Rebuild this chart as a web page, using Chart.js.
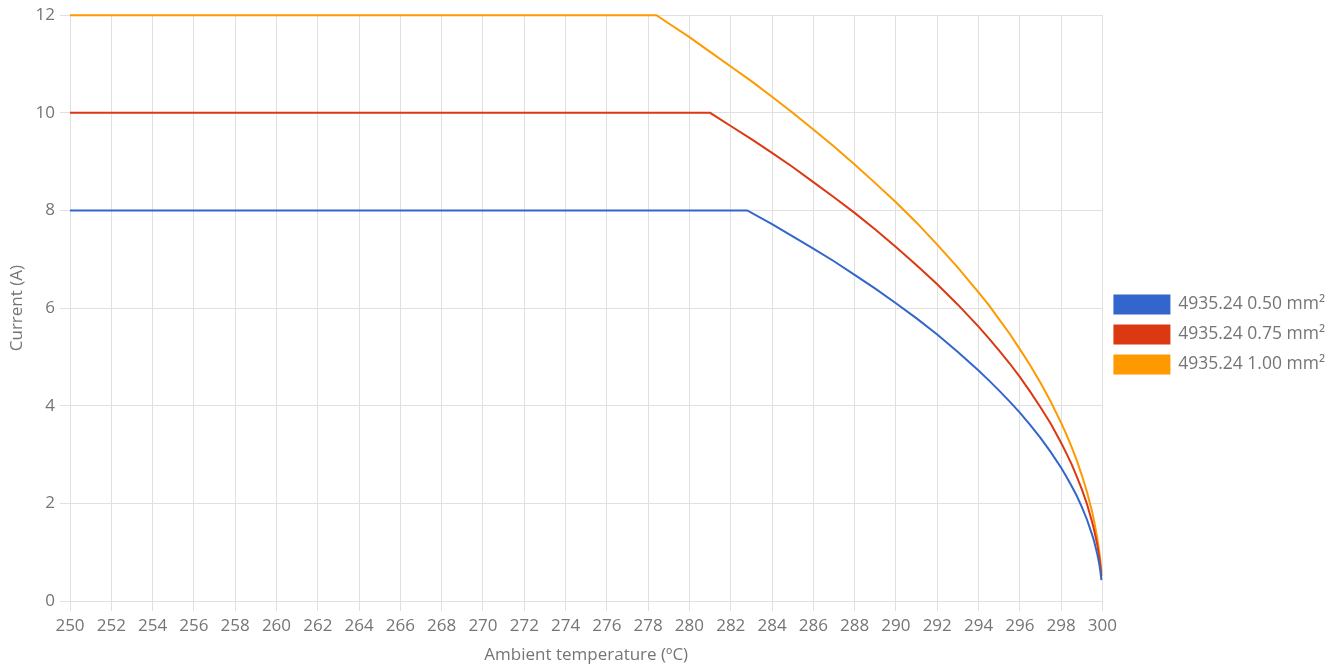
<!DOCTYPE html>
<html>
<head>
<meta charset="utf-8">
<script src="https://cdn.jsdelivr.net/npm/chart.js@4.4.1/dist/chart.umd.min.js"></script>
<style>
  html, body { margin: 0; padding: 0; background: #fff; }
  #wrap { width: 1339px; height: 669px; position: relative; }
</style>
</head>
<body>
<div id="wrap"><canvas id="chart"></canvas></div>
<script>
"use strict";

// series labels + colours
const LABELS = ["4935.24 0.50 mm²", "4935.24 0.75 mm²", "4935.24 1.00 mm²"];
const COLORS = ["#3366cc", "#dc3912", "#ff9900"];

// ambient temperature (ºC) / current (A)
const temp050 = [250, 282.8, 284, 285, 286, 287, 288, 289, 290, 291, 292, 293, 294, 294.5, 295, 295.5, 296, 296.5, 297, 297.5, 298, 298.25, 298.5, 298.75, 299, 299.25, 299.5, 299.6, 299.75, 299.85, 299.9, 299.95];
const curr050 = [8, 8, 7.72, 7.47, 7.22, 6.96, 6.68, 6.40, 6.10, 5.79, 5.46, 5.10, 4.72, 4.52, 4.31, 4.09, 3.86, 3.61, 3.34, 3.05, 2.73, 2.55, 2.36, 2.16, 1.93, 1.67, 1.36, 1.22, 0.96, 0.75, 0.61, 0.43];

const temp075 = [250, 281, 282, 283, 284, 285, 286, 287, 288, 289, 290, 291, 292, 293, 294, 294.5, 295, 295.5, 296, 296.5, 297, 297.5, 298, 298.25, 298.5, 298.75, 299, 299.25, 299.5, 299.6, 299.75, 299.85, 299.9, 299.95];
const curr075 = [10, 10, 9.73, 9.46, 9.18, 8.89, 8.58, 8.27, 7.95, 7.61, 7.25, 6.88, 6.49, 6.07, 5.62, 5.38, 5.13, 4.87, 4.59, 4.29, 3.97, 3.63, 3.24, 3.03, 2.81, 2.56, 2.29, 1.99, 1.62, 1.45, 1.15, 0.89, 0.73, 0.51];

const temp100 = [250, 278.4, 279, 280, 281, 282, 283, 284, 285, 286, 287, 288, 289, 290, 291, 292, 293, 294, 294.5, 295, 295.5, 296, 296.5, 297, 297.5, 298, 298.25, 298.5, 298.75, 299, 299.25, 299.5, 299.6, 299.75, 299.85, 299.9, 299.95];
const curr100 = [12, 12, 11.83, 11.55, 11.25, 10.95, 10.65, 10.33, 10.00, 9.66, 9.31, 8.94, 8.56, 8.17, 7.75, 7.30, 6.83, 6.32, 6.06, 5.77, 5.48, 5.16, 4.83, 4.47, 4.08, 3.65, 3.42, 3.16, 2.89, 2.58, 2.24, 1.83, 1.63, 1.29, 1.00, 0.82, 0.58];

// axis ranges / ticks
const X_MIN = 250, X_MAX = 300, X_STEP = 2;
const Y_MIN = 0, Y_MAX = 12, Y_STEP = 2;

const FONT = "'Open Sans', 'DejaVu Sans', sans-serif";
const TXT = "#757575";
const GRID = "#e0e0e0";

function pts(xs, ys) {
  return xs.map((x, i) => ({ x, y: ys[i] }));
}

const series = [pts(temp050, curr050), pts(temp075, curr075), pts(temp100, curr100)];

const datasets = series.map((data, i) => ({
  label: LABELS[i],
  data,
  borderColor: COLORS[i],
  backgroundColor: COLORS[i],
  borderWidth: 2,
  pointRadius: 0,
  tension: 0,
  fill: false,
  clip: false,   // the 12 A line sits right on the top edge
}));

new Chart(document.getElementById("chart"), {
  type: "line",
  data: { datasets },
  options: {
    responsive: true, maintainAspectRatio: false, animation: false,
    layout: { padding: { top: 0, right: 4, left: 0, bottom: 0 } },
    plugins: {
      tooltip: { enabled: false },
      legend: {
        position: "right",
        labels: {
          boxWidth: 55, boxHeight: 18, padding: 12,
          color: TXT, font: { family: FONT, size: 17.5 },
        },
      },
    },
    scales: {
      x: {
        type: "linear", min: X_MIN, max: X_MAX,
        ticks: { stepSize: X_STEP, color: TXT, font: { family: FONT, size: 17 }, maxRotation: 0, autoSkip: false, padding: 5 },
        grid: { color: GRID, tickLength: 10 },
        border: { color: GRID },
        title: { display: true, text: "Ambient temperature (ºC)", color: TXT, font: { family: FONT, size: 17 }, padding: { top: 4, bottom: 4 } },
        afterFit: (s) => { s.height = 68; },
      },
      y: {
        type: "linear", min: Y_MIN, max: Y_MAX,
        ticks: { stepSize: Y_STEP, color: TXT, font: { family: FONT, size: 17 }, padding: 5 },
        grid: { color: GRID, tickLength: 10 },
        border: { color: GRID },
        title: { display: true, text: "Current (A)", color: TXT, font: { family: FONT, size: 17 }, padding: { top: 7, bottom: 4 } },
        afterFit: (s) => { s.width = 70; },
      },
    },
  },
});
</script>
</body>
</html>
